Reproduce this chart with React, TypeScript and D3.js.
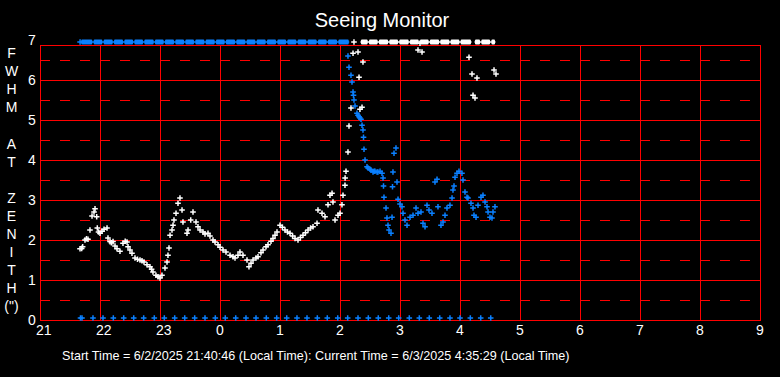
import React from "react";
import * as d3 from "d3";

// ---- data (hours since midnight of start day; >24 means next day) ----
const xTickHours = [21, 22, 23, 24, 25, 26, 27, 28, 29, 30, 31, 32, 33];
const yTicks = [0, 1, 2, 3, 4, 5, 6, 7];
const yHalfTicks = [0.5, 1.5, 2.5, 3.5, 4.5, 5.5, 6.5];
const yLabelChars = ["F", "W", "H", "M", "", "A", "T", "", "Z", "E", "N", "I", "T", "H", "(\")"];
const titleText = "Seeing Monitor";
const footerText =
  "Start Time = 6/2/2025 21:40:46 (Local Time): Current Time = 6/3/2025 4:35:29 (Local Time)";

const clipValue = 6.95;
const zeroValue = 0.05;

// white (seeing) measurements
const whiteSeries: [number, number][] = [
  [21.667, 1.78], [21.695, 1.79], [21.711, 1.83], [21.75, 2.0], [21.775, 2.03], [21.8, 2.02], [21.833, 2.25],
  [21.867, 2.6], [21.9, 2.7], [21.917, 2.78], [21.945, 2.58], [21.955, 2.3], [21.975, 2.2], [22.0, 2.17],
  [22.033, 2.22], [22.067, 2.27], [22.117, 2.3], [22.133, 2.05], [22.167, 1.96], [22.19, 1.93], [22.217, 1.96], [22.25, 1.85], [22.283, 1.78],
  [22.333, 1.72], [22.383, 1.92], [22.42, 1.97], [22.45, 1.95], [22.467, 1.83], [22.5, 1.75], [22.533, 1.67], [22.583, 1.55],
  [22.625, 1.52], [22.667, 1.5], [22.7, 1.48], [22.733, 1.45], [22.783, 1.38], [22.833, 1.33], [22.86, 1.27], [22.883, 1.2], [22.933, 1.12],
  [22.967, 1.08], [23.0, 1.05], [23.033, 1.12], [23.083, 1.3], [23.117, 1.45], [23.133, 1.62],
  [23.15, 1.8], [23.167, 2.12], [23.2, 2.25], [23.217, 2.37], [23.233, 2.5], [23.267, 2.67],
  [23.3, 2.92], [23.333, 3.05], [23.367, 2.75], [23.383, 2.45], [23.45, 2.17], [23.467, 2.25],
  [23.512, 2.5], [23.55, 2.7], [23.6, 2.45], [23.633, 2.33], [23.667, 2.25], [23.717, 2.2],
  [23.75, 2.15], [23.8, 2.17], [23.833, 2.1], [23.883, 2.0], [23.917, 1.95], [23.967, 1.88],
  [24.0, 1.82], [24.05, 1.75], [24.1, 1.7], [24.167, 1.62], [24.217, 1.58], [24.25, 1.55],
  [24.3, 1.62], [24.333, 1.7], [24.383, 1.62], [24.45, 1.5], [24.483, 1.33], [24.517, 1.42], [24.55, 1.5], [24.6, 1.55], [24.633, 1.58],
  [24.683, 1.68], [24.717, 1.75], [24.767, 1.83], [24.8, 1.88], [24.85, 1.97], [24.883, 2.04], [24.917, 2.12], [24.95, 2.2], [25.0, 2.37], [25.04, 2.32], [25.083, 2.25],
  [25.125, 2.2], [25.167, 2.17], [25.21, 2.1], [25.25, 2.04], [25.3, 2.0], [25.34, 2.06], [25.383, 2.12], [25.425, 2.18], [25.467, 2.25], [25.51, 2.3], [25.55, 2.33],
  [25.617, 2.42], [25.633, 2.75], [25.7, 2.67], [25.75, 2.58], [25.8, 2.88], [25.833, 3.12],
  [25.867, 3.17], [25.883, 2.95], [25.917, 2.5], [25.967, 2.62], [26.0, 2.67], [26.033, 2.88],
  [26.05, 3.12], [26.083, 3.37], [26.085, 3.55], [26.1, 3.72], [26.133, 4.2], [26.15, 4.85],
  [26.183, 5.3], [26.333, 5.27], [26.367, 5.32], [26.317, 6.07], [26.383, 6.45], [26.217, 6.67],
  [26.3, 6.7], [27.3, 6.75], [27.367, 6.7], [27.333, 6.92], [28.15, 6.57], [28.2, 6.15],
  [28.283, 6.05], [28.217, 5.62], [28.25, 5.55], [28.567, 6.25], [28.6, 6.15],
];

// blue measurements
const blueSeries: [number, number][] = [
  [26.133, 6.6], [26.15, 6.32], [26.183, 6.12], [26.2, 5.95], [26.217, 5.7], [26.225, 5.62],
  [26.233, 5.5], [26.25, 5.35], [26.283, 5.17], [26.3, 5.12], [26.317, 5.08], [26.333, 5.05],
  [26.35, 5.02], [26.367, 4.87], [26.383, 4.75], [26.392, 4.57], [26.4, 4.27], [26.417, 4.0],
  [26.45, 3.83], [26.467, 3.8], [26.5, 3.77], [26.517, 3.75], [26.55, 3.7], [26.567, 3.72],
  [26.583, 3.72], [26.617, 3.7], [26.633, 3.7], [26.667, 3.72], [26.7, 3.67], [26.717, 3.55],
  [26.725, 3.35], [26.733, 3.07], [26.767, 2.8], [26.783, 2.55], [26.8, 2.37], [26.817, 2.25],
  [26.85, 2.17], [26.867, 2.57], [26.875, 3.33], [26.883, 3.7], [26.9, 4.17], [26.933, 4.3],
  [26.95, 3.45], [26.967, 3.02], [27.0, 2.9], [27.033, 2.83], [27.05, 2.67], [27.083, 2.5],
  [27.117, 2.37], [27.167, 2.57], [27.217, 2.62], [27.267, 2.8], [27.3, 2.67], [27.35, 2.7],
  [27.383, 2.42], [27.417, 2.33], [27.45, 2.87], [27.483, 2.75], [27.533, 2.67], [27.583, 3.45],
  [27.617, 3.52], [27.633, 2.83], [27.683, 2.37], [27.717, 2.45], [27.75, 2.62], [27.783, 2.8],
  [27.833, 2.87], [27.867, 3.05], [27.883, 3.25], [27.9, 3.35], [27.917, 3.57], [27.95, 3.67],
  [27.983, 3.72], [28.033, 3.67], [28.05, 3.5], [28.083, 3.2], [28.117, 3.07], [28.133, 3.05],
  [28.183, 2.92], [28.217, 2.8], [28.233, 2.62], [28.267, 2.57], [28.3, 2.87], [28.35, 3.07],
  [28.383, 3.12], [28.417, 2.95], [28.45, 2.83], [28.467, 2.7], [28.5, 2.57], [28.533, 2.55],
  [28.55, 2.7], [28.583, 2.83],
];

// blue zero readings (every ~10 min)
const blueZeroTimes = [
  21.675, 21.7, 21.883, 22.05, 22.222, 22.395, 22.562, 22.728, 22.905, 23.072, 23.245, 23.412,
  23.578, 23.75, 23.922, 24.088, 24.262, 24.433, 24.6, 24.772, 24.945, 25.112, 25.283, 25.45,
  25.622, 25.788, 25.962, 26.128, 26.3, 26.472, 26.638, 26.812, 26.978, 27.155, 27.322, 27.488,
  27.662, 27.833, 28.0, 28.172, 28.345, 28.512,
];

// spans of continuous off-scale (clipped) readings
const blueClipSpans: [number, number][] = [[21.72, 26.112]];
const blueClipSingles = [21.668];
const whiteClipSpans: [number, number][] = [[26.383, 28.15], [28.283, 28.55]];
const whiteClipSingles = [26.233];

const W = 780;
const H = 377;
const BLUE = "#0a80ff";
const RED = "#ff0000";
const FONT = "Arial, 'Liberation Sans', sans-serif";

function Cross({ cx, cy, color }: { cx: number; cy: number; color: string }) {
  const r = 2.8;
  return (
    <path
      d={`M${cx - r},${cy}H${cx + r}M${cx},${cy - r}V${cy + r}`}
      stroke={color}
      strokeWidth={1.5}
      fill="none"
    />
  );
}

export default function App() {
  const x = d3.scaleLinear().domain([21, 33]).range([40, 760]);
  const y = d3.scaleLinear().domain([0, 7]).range([320, 40]);
  const plotTop = 45;

  const clipBlocks = (spans: [number, number][], color: string, key: string) =>
    spans.map(([s, e], si) => {
      const bounds = [s, ...blueZeroTimes.filter((t) => t > s && t < e), e];
      const yc = y(clipValue);
      return (
        <g key={`${key}${si}`}>
          <line x1={x(s) - 2.5} x2={x(e) + 2.5} y1={yc} y2={yc} stroke={color} strokeWidth={1.4} />
          {bounds.slice(0, -1).map((a, i) => {
            const b = bounds[i + 1];
            const x0 = x(a) + (i === 0 ? -2 : 0.7);
            const x1 = x(b) - (i === bounds.length - 2 ? -2 : 0.7);
            return (
              <rect
                key={i}
                x={x0}
                y={yc - 2.6}
                width={Math.max(0, x1 - x0)}
                height={5.2}
                rx={1}
                fill={color}
              />
            );
          })}
        </g>
      );
    });

  return (
    <div style={{ position: "fixed", left: 0, top: 0, width: W, height: H, background: "#000" }}>
      <svg width={W} height={H} style={{ display: "block" }}>
        <rect x={0} y={0} width={W} height={H} fill="#000" />
        <g shapeRendering="crispEdges">
          {/* dashed half-unit lines */}
          {yHalfTicks.map((v) => (
            <line
              key={`h${v}`}
              x1={40}
              x2={760}
              y1={y(v) + 0.5}
              y2={y(v) + 0.5}
              stroke={RED}
              strokeWidth={1}
              strokeDasharray="10,10"
            />
          ))}
          {/* solid horizontal grid */}
          {yTicks.filter((v) => v < 7).map((v) => (
            <line key={`g${v}`} x1={40} x2={761} y1={y(v) + 0.5} y2={y(v) + 0.5} stroke={RED} strokeWidth={1} />
          ))}
          <line x1={40} x2={761} y1={plotTop + 0.5} y2={plotTop + 0.5} stroke={RED} strokeWidth={1} />
          {/* vertical grid */}
          {xTickHours.map((h) => (
            <line
              key={`v${h}`}
              x1={x(h) + 0.5}
              x2={x(h) + 0.5}
              y1={plotTop}
              y2={y(0) + 1}
              stroke={RED}
              strokeWidth={1}
            />
          ))}
        </g>

        {/* clipped readings at top */}
        {clipBlocks(blueClipSpans, BLUE, "bc")}
        {blueClipSingles.map((t, i) => (
          <Cross key={`bs${i}`} cx={x(t)} cy={y(clipValue)} color={BLUE} />
        ))}
        {clipBlocks(whiteClipSpans, "#fff", "wc")}
        {whiteClipSingles.map((t, i) => (
          <Cross key={`ws${i}`} cx={x(t)} cy={y(clipValue)} color="#fff" />
        ))}

        {/* zero readings */}
        {blueZeroTimes.map((t, i) => (
          <Cross key={`z${i}`} cx={x(t)} cy={y(zeroValue)} color={BLUE} />
        ))}

        {/* series */}
        {whiteSeries.map(([t, v], i) => (
          <Cross key={`w${i}`} cx={x(t)} cy={y(v)} color="#fff" />
        ))}
        {blueSeries.map(([t, v], i) => (
          <Cross key={`b${i}`} cx={x(t)} cy={y(v)} color={BLUE} />
        ))}

        {/* title */}
        <text x={382} y={27} fill="#fff" fontSize={20} fontFamily={FONT} textAnchor="middle">
          {titleText}
        </text>

        {/* y tick labels */}
        {yTicks.map((v) => (
          <text key={`yl${v}`} x={28} y={y(v) + 5} fill="#fff" fontSize={14} fontFamily={FONT}>
            {v}
          </text>
        ))}

        {/* x tick labels */}
        {xTickHours.map((h) => (
          <text key={`xl${h}`} x={x(h) - 4} y={335} fill="#fff" fontSize={14} fontFamily={FONT}>
            {h % 24}
          </text>
        ))}

        {/* y axis title (vertical letters) */}
        {yLabelChars.map((c, i) => (
          <text
            key={`yc${i}`}
            x={11.5}
            y={58 + i * 18.1}
            fill="#fff"
            fontSize={14}
            fontFamily={FONT}
            textAnchor="middle"
          >
            {c}
          </text>
        ))}

        {/* footer */}
        <text x={62} y={360} fill="#fff" fontSize={12.6} fontFamily={FONT}>
          {footerText}
        </text>
      </svg>
    </div>
  );
}
